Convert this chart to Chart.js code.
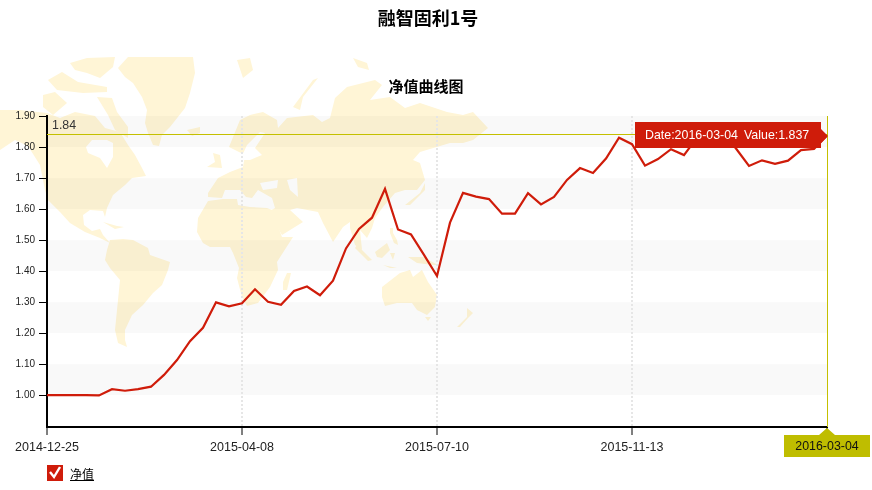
<!DOCTYPE html>
<html lang="zh">
<head>
  <meta charset="UTF-8" />
  <title>融智固利1号</title>
  <script src="https://cdn.jsdelivr.net/npm/chart.js"></script>
  <style>
    html, body { margin: 0; padding: 0; background: #fff; }
    #wrap { position: relative; width: 872px; height: 490px; overflow: hidden; font-family: "Liberation Sans", Arial, sans-serif; }
    #map { position: absolute; left: 0; top: 0; }
    #map polygon { fill: #fff5d6; }
    #map polygon.sea { fill: #fff; }
    #chart { position: absolute; left: 0; top: 0; }
    .title { position: absolute; left: 0; width: 856px; text-align: center; font-family: "Noto Sans CJK SC", sans-serif; font-weight: bold; color: #000; }
    #title { top: 4px; font-size: 18px; line-height: 26px; }
    #subtitle { top: 75px; font-size: 15px; line-height: 22px; }
    #legendBox { position: absolute; left: 47px; top: 465px; width: 16px; height: 16px; background: #cf1c0a; }
    #legendText { position: absolute; left: 70px; top: 466px; font-family: "Noto Sans CJK SC", sans-serif; font-size: 12px; line-height: 16px; color: #000; text-decoration: underline; }
  </style>
</head>
<body>
  <div id="wrap">
    <!-- background world map, only decoration -->
    <svg id="map" width="872" height="490" viewBox="0 0 872 490">
      <polygon points="118,68 128,57 193,57 195,73 190,93 185,108 170,127 162,135 159,146 153,145 148,133 145,123 147,110 142,97 133,83 125,77" />
      <polygon points="70,63 87,58 115,57 113,67 100,78 87,73 75,70" />
      <polygon points="97,97 112,98 117,112 128,127 128,138 115,130 108,115" />
      <polygon points="48,80 62,72 78,82 107,87 107,92 83,93 57,90" />
      <polygon points="43,95 55,92 67,103 53,115 43,107" />
      <polygon points="0,110 20,110 47,113 60,118 75,112 95,116 105,128 120,132 128,145 135,155 142,168 146,176 132,178 125,185 113,195 107,208 105,217 103,211 90,210 83,215 84,225 92,231 100,229 103,235 110,243 100,238 85,232 70,223 60,212 48,200 45,190 40,165 28,146 15,140 0,150" />
      <polygon class="sea" points="86,147 92,140 107,140 113,143 113,157 107,168 100,158 88,153" />
      <polygon points="103,222 117,226 124,227 115,229" />
      <polygon points="110,240 123,239 133,240 148,248 150,255 170,262 168,270 162,285 153,293 143,305 132,315 125,330 125,340 127,347 118,343 115,330 118,300 120,280 110,268 105,260 107,250" />
      <polygon points="208,201 223,199 237,199 238,205 250,207 267,208 272,210 282,237 293,237 277,262 278,270 270,287 258,303 247,306 242,297 237,278 239,268 233,253 230,247 210,247 203,243 197,232 198,218" />
      <polygon points="287,273 291,273 287,290 283,290 283,282" />
      <polygon points="208,197 208,193 218,178 230,172 243,167 245,155 229,147 240,120 250,115 263,112 277,120 278,128 287,118 313,115 322,122 330,118 335,98 347,87 367,82 375,80 382,85 370,100 390,97 405,108 420,103 447,112 463,115 473,112 488,128 473,140 463,143 450,143 420,152 413,160 420,163 425,180 417,190 405,190 395,193 383,207 375,218 372,228 367,238 360,230 362,250 355,245 350,228 350,222 343,227 333,242 323,223 318,212 297,208 290,210 303,222 282,235 268,212 275,208 272,198 258,190 252,198 246,197 240,190 225,190 222,198" />
      <polygon class="sea" points="240,160 247,145 260,132 265,133 255,148 262,155 250,160" />
      <polygon class="sea" points="260,183 278,180 277,188 263,190" />
      <polygon class="sea" points="287,180 297,178 298,197 290,190" />
      <polygon points="213,153 220,155 222,168 207,167 215,162" />
      <polygon points="187,130 200,127 200,133 192,136" />
      <polygon points="237,60 250,58 253,70 243,78" />
      <polygon points="293,107 313,80 318,78 303,97 300,110" />
      <polygon points="353,58 367,63 369,70 358,67" />
      <polygon points="405,205 420,193 425,183 425,190 410,205" />
      <polygon points="357,245 372,260 368,261 355,248" />
      <polygon points="375,252 387,243 390,250 382,258 377,257" />
      <polygon points="390,253 395,253 393,260" />
      <polygon points="383,265 397,268 390,268" />
      <polygon points="408,257 423,257 438,265 433,265 417,263" />
      <polygon points="390,228 393,228 393,233 397,240 398,245 394,243 390,233" />
      <polygon points="382,287 400,273 410,270 413,277 422,270 428,282 437,295 435,307 427,315 417,310 412,303 397,303 385,306 382,297" />
      <polygon points="425,317 431,317 428,321" />
      <polygon points="467,308 473,313 468,318 460,327 457,327 467,317" />
    </svg>
    <canvas id="chart" width="872" height="490"></canvas>
    <div id="title" class="title">融智固利1号</div>
    <div id="subtitle" class="title" style="width:852px">净值曲线图</div>
    <div id="legendBox">
      <svg width="16" height="16" viewBox="0 0 16 16"><path d="M3 7 L7 12 L13 2" fill="none" stroke="#fff" stroke-width="2.4" /></svg>
    </div>
    <div id="legendText">净值</div>
  </div>

  <script>
    const seriesName = '净值';

    const dates = [
      '2014-12-25','2015-01-01','2015-01-08','2015-01-15','2015-01-22','2015-01-29','2015-02-05','2015-02-12',
      '2015-02-26','2015-03-05','2015-03-12','2015-03-19','2015-03-25','2015-03-30','2015-04-02','2015-04-08',
      '2015-04-15','2015-04-22','2015-04-29','2015-05-06','2015-05-13','2015-05-20','2015-05-27','2015-06-03',
      '2015-06-10','2015-06-17','2015-06-24','2015-06-30','2015-07-03','2015-07-07','2015-07-10','2015-07-17',
      '2015-07-24','2015-07-31','2015-08-07','2015-08-14','2015-08-21','2015-08-28','2015-09-04','2015-09-11',
      '2015-09-18','2015-09-25','2015-10-09','2015-10-16','2015-10-30','2015-11-13','2015-11-20','2015-11-27',
      '2015-12-04','2015-12-11','2015-12-18','2015-12-25','2016-01-01','2016-01-08','2016-01-15','2016-01-22',
      '2016-01-29','2016-02-05','2016-02-19','2016-02-26','2016-03-04'
    ];

    const netValues = [
      1.000,1.000,1.000,1.000,0.999,1.019,1.014,1.019,
      1.027,1.065,1.113,1.174,1.217,1.299,1.286,1.296,
      1.341,1.301,1.291,1.336,1.350,1.322,1.369,1.473,
      1.536,1.572,1.665,1.534,1.518,1.452,1.384,1.556,
      1.652,1.640,1.632,1.585,1.585,1.651,1.615,1.639,
      1.694,1.732,1.716,1.763,1.830,1.809,1.740,1.761,
      1.793,1.774,1.830,1.850,1.845,1.795,1.739,1.757,
      1.746,1.756,1.790,1.794,1.837
    ];

    const xTickLabels = ['2014-12-25','2015-04-08','2015-07-10','2015-11-13','2016-03-04'];
    const yTickValues = [1.00,1.10,1.20,1.30,1.40,1.50,1.60,1.70,1.80,1.90];
    const bandRanges = [[1.80,1.90],[1.60,1.70],[1.40,1.50],[1.20,1.30],[1.00,1.10]];

    const lineRed = '#cf1c0a';
    const pointerColor = '#c4c000';
    const pointerBox = '#bfbd00';
    const labelFont = '"Liberation Sans", Arial, sans-serif';

    // grey stripes behind the line
    const bandsPlugin = {
      id: 'bands',
      beforeDraw(chart) {
        const { ctx, chartArea, scales } = chart;
        ctx.save();
        ctx.fillStyle = 'rgba(0,0,0,0.025)';
        bandRanges.forEach(([lo, hi]) => {
          const top = scales.y.getPixelForValue(hi);
          const bottom = scales.y.getPixelForValue(lo);
          ctx.fillRect(chartArea.left, top, chartArea.right - chartArea.left, bottom - top);
        });
        ctx.restore();
      }
    };

    // axis pointer and tooltip on the last date
    const pointerPlugin = {
      id: 'pointer',
      afterDraw(chart) {
        const { ctx, chartArea, scales } = chart;
        const last = dates.length - 1;
        const px = scales.x.getPixelForValue(last);
        const py = Math.round(scales.y.getPixelForValue(netValues[last]));
        ctx.save();

        ctx.strokeStyle = pointerColor;
        ctx.lineWidth = 1;
        ctx.beginPath();
        ctx.moveTo(chartArea.left, py - 1.5);
        ctx.lineTo(chartArea.right, py - 1.5);
        ctx.moveTo(px + 0.5, chartArea.top);
        ctx.lineTo(px + 0.5, chartArea.bottom);
        ctx.stroke();

        ctx.font = '12.4px ' + labelFont;
        ctx.textBaseline = 'middle';
        ctx.textAlign = 'left';
        ctx.fillStyle = '#333';
        ctx.fillText(netValues[last].toFixed(2), chartArea.left + 5, py - 10);

        // date label under the axis
        ctx.fillStyle = pointerBox;
        ctx.beginPath();
        ctx.moveTo(px, chartArea.bottom + 1);
        ctx.lineTo(px + 8, chartArea.bottom + 8);
        ctx.lineTo(px + 43, chartArea.bottom + 8);
        ctx.lineTo(px + 43, chartArea.bottom + 30);
        ctx.lineTo(px - 43, chartArea.bottom + 30);
        ctx.lineTo(px - 43, chartArea.bottom + 8);
        ctx.lineTo(px - 8, chartArea.bottom + 8);
        ctx.closePath();
        ctx.fill();
        ctx.fillStyle = '#111';
        ctx.textAlign = 'center';
        ctx.fillText(dates[last], px, chartArea.bottom + 19.5);

        // tooltip box with arrow
        ctx.fillStyle = lineRed;
        ctx.beginPath();
        ctx.moveTo(px - 192, py - 14);
        ctx.lineTo(px - 6, py - 14);
        ctx.lineTo(px - 6, py - 7);
        ctx.lineTo(px + 1, py);
        ctx.lineTo(px - 6, py + 7);
        ctx.lineTo(px - 6, py + 12);
        ctx.lineTo(px - 192, py + 12);
        ctx.closePath();
        ctx.fill();
        ctx.fillStyle = '#fff';
        ctx.textAlign = 'left';
        ctx.fillText('Date:' + dates[last], px - 182, py - 0.5);
        ctx.fillText('Value:' + netValues[last].toFixed(3), px - 83, py - 0.5);

        ctx.restore();
      }
    };

    new Chart(document.getElementById('chart'), {
      type: 'line',
      data: {
        labels: dates,
        datasets: [{
          label: seriesName,
          data: netValues,
          borderColor: lineRed,
          borderWidth: 2.2,
          tension: 0,
          pointRadius: 0,
          fill: false
        }]
      },
      plugins: [bandsPlugin, pointerPlugin],
      options: {
        responsive: false,
        animation: false,
        devicePixelRatio: 1,
        layout: { padding: { top: 116, right: 45, left: 0, bottom: 0 } },
        plugins: { legend: { display: false }, title: { display: false }, tooltip: { enabled: false } },
        scales: {
          x: {
            type: 'category',
            offset: false,
            afterFit(scale) { scale.height = 63; },
            afterBuildTicks(scale) {
              scale.ticks = scale.ticks.filter(t => xTickLabels.includes(dates[t.value]));
            },
            border: { color: '#000', width: 2, dash: [2, 2] },
            grid: {
              color: ctx => (ctx.tick && ctx.tick.value === dates.length - 1 ? 'transparent' : '#e6e6e6'),
              lineWidth: 2,
              tickColor: '#000',
              tickLength: 8,
              tickWidth: 1,
              tickBorderDash: []
            },
            ticks: {
              autoSkip: false,
              maxRotation: 0,
              padding: 5,
              color: '#222',
              font: { family: labelFont, size: 12.5 }
            }
          },
          y: {
            min: 0.897,
            max: 1.9,
            afterFit(scale) { scale.width = 47; },
            afterBuildTicks(scale) {
              scale.ticks = yTickValues.map(v => ({ value: v }));
            },
            border: { color: '#000', width: 2 },
            grid: {
              drawOnChartArea: false,
              tickColor: '#000',
              tickLength: 8,
              tickWidth: 1
            },
            ticks: {
              padding: 4,
              color: '#222',
              font: { family: labelFont, size: 10 },
              callback: v => Number(v).toFixed(2)
            }
          }
        }
      }
    });
  </script>
</body>
</html>
